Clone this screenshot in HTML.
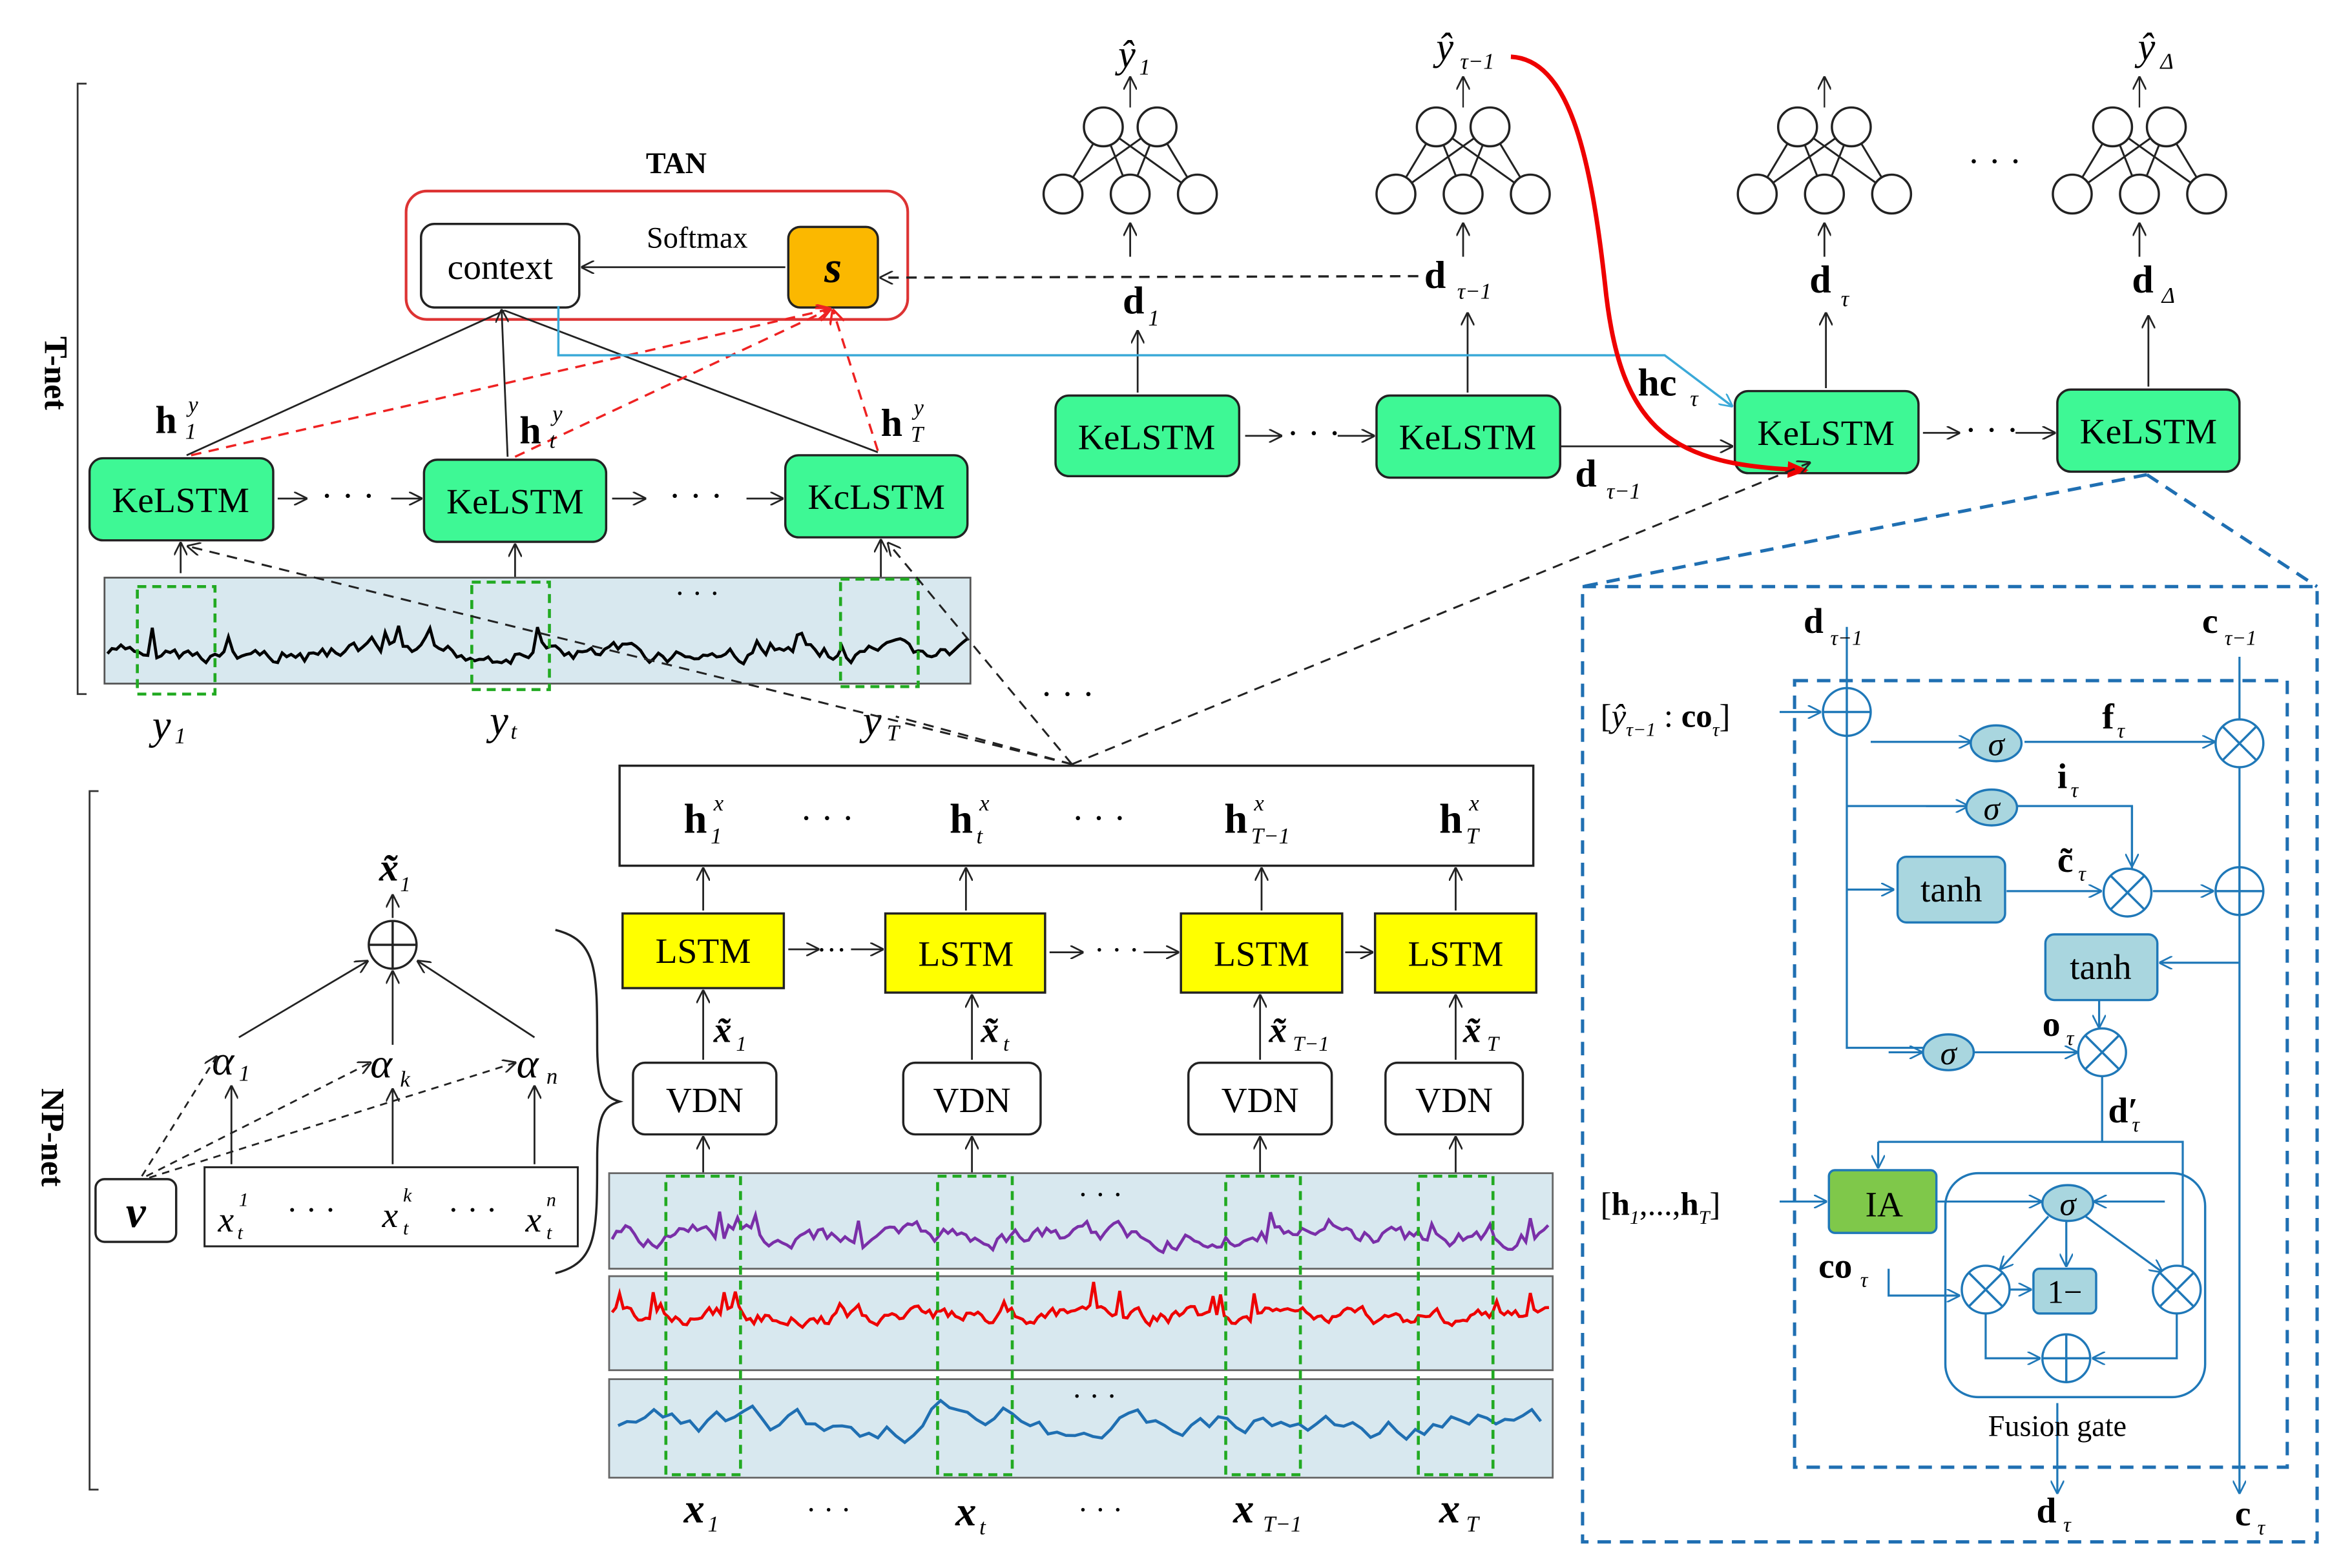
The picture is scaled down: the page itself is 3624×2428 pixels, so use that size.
<!DOCTYPE html>
<html><head><meta charset="utf-8"><style>
html,body{margin:0;padding:0;background:#fff}
svg{display:block}
text{font-family:"Liberation Serif",serif}
</style></head><body>
<svg id="s" width="3624" height="2428" viewBox="0 0 1568 1050.5" xmlns="http://www.w3.org/2000/svg">
<defs>
<marker id="a" viewBox="0 0 10 10" refX="9" refY="5" markerWidth="9" markerHeight="9" orient="auto" markerUnits="userSpaceOnUse"><path d="M0,0L10,5L0,10" fill="none" stroke="#222" stroke-width="1.3"/></marker>
<marker id="ar" viewBox="0 0 10 10" refX="9" refY="5" markerWidth="10" markerHeight="10" orient="auto" markerUnits="userSpaceOnUse"><path d="M0,0L10,5L0,10" fill="none" stroke="#e22" stroke-width="1.5"/></marker>
<marker id="ab" viewBox="0 0 10 10" refX="9" refY="5" markerWidth="9" markerHeight="9" orient="auto" markerUnits="userSpaceOnUse"><path d="M0,0L10,5L0,10" fill="none" stroke="#1f78b8" stroke-width="1.3"/></marker>
<marker id="ac" viewBox="0 0 10 10" refX="9" refY="5" markerWidth="9" markerHeight="9" orient="auto" markerUnits="userSpaceOnUse"><path d="M0,0L10,5L0,10" fill="none" stroke="#3aa9d8" stroke-width="1.3"/></marker>
<marker id="aR" viewBox="0 0 10 10" refX="9" refY="5" markerWidth="14" markerHeight="14" orient="auto" markerUnits="userSpaceOnUse"><path d="M0,1L10,5L0,9z" fill="#e00"/></marker>
</defs>
<g stroke="#333" stroke-width="1.2" fill="none">
<path d="M58,56H52V465H58"/><path d="M66,530H60V998H66"/>
</g>
<text x="30" y="250" font-size="22" font-weight="bold" transform="rotate(90 30 250)" text-anchor="middle">T-net</text>
<text x="28" y="762" font-size="22" font-weight="bold" transform="rotate(90 28 762)" text-anchor="middle">NP-net</text>

<text x="453" y="116" font-size="20" font-weight="bold" text-anchor="middle">TAN</text>
<rect x="272" y="128" width="336" height="86" rx="14" fill="none" stroke="#d33" stroke-width="1.8"/>
<rect x="282" y="150" width="106" height="56" rx="9" fill="#fff" stroke="#222" stroke-width="1.5"/>
<text x="335" y="187" font-size="24" text-anchor="middle">context</text>
<rect x="528" y="152" width="60" height="54" rx="8" fill="#fbb800" stroke="#222" stroke-width="1.5"/>
<text x="558" y="189" font-size="30" font-weight="bold" font-style="italic" text-anchor="middle">s</text>
<text x="467" y="166" font-size="20" text-anchor="middle">Softmax</text>
<line x1="526" y1="179" x2="390" y2="179" stroke="#222" stroke-width="1.2" marker-end="url(#a)"/>
<line x1="950" y1="185" x2="590" y2="186" stroke="#222" stroke-width="1.5" stroke-dasharray="7,5" marker-end="url(#a)"/>

<g stroke="#222" stroke-width="1.5">
<rect x="60" y="307" width="123" height="55" rx="9" fill="#3ef895"/>
<rect x="284" y="308" width="122" height="55" rx="9" fill="#3ef895"/>
<rect x="526" y="305" width="122" height="55" rx="9" fill="#3ef895"/>
<rect x="707" y="265" width="123" height="54" rx="9" fill="#3ef895"/>
<rect x="922" y="265" width="123" height="55" rx="9" fill="#3ef895"/>
<rect x="1162" y="262" width="123" height="55" rx="9" fill="#3ef895"/>
<rect x="1378" y="261" width="122" height="55" rx="9" fill="#3ef895"/>
</g>
<g font-size="24" text-anchor="middle">
<text x="121" y="343">KeLSTM</text><text x="345" y="344">KeLSTM</text><text x="587" y="341">KcLSTM</text>
<text x="768" y="301">KeLSTM</text><text x="983" y="301">KeLSTM</text><text x="1223" y="298">KeLSTM</text><text x="1439" y="297">KeLSTM</text>
</g>
<g stroke="#222" stroke-width="1.2" fill="none">
<line x1="186" y1="334" x2="205" y2="334" marker-end="url(#a)"/>
<line x1="262" y1="334" x2="282" y2="334" marker-end="url(#a)"/>
<line x1="410" y1="334" x2="432" y2="334" marker-end="url(#a)"/>
<line x1="500" y1="334" x2="524" y2="334" marker-end="url(#a)"/>
<line x1="834" y1="292" x2="858" y2="292" marker-end="url(#a)"/>
<line x1="896" y1="292" x2="920" y2="292" marker-end="url(#a)"/>
<line x1="1288" y1="290" x2="1312" y2="290" marker-end="url(#a)"/>
<line x1="1350" y1="290" x2="1376" y2="290" marker-end="url(#a)"/>
<line x1="1045" y1="299" x2="1160" y2="299" marker-end="url(#a)"/>
<line x1="121" y1="384" x2="121" y2="364" marker-end="url(#a)"/>
<line x1="345" y1="388" x2="345" y2="365" marker-end="url(#a)"/>
<line x1="590" y1="410" x2="590" y2="362" marker-end="url(#a)"/>
<line x1="762" y1="263" x2="762" y2="222" marker-end="url(#a)"/>
<line x1="983" y1="263" x2="983" y2="210" marker-end="url(#a)"/>
<line x1="1223" y1="260" x2="1223" y2="210" marker-end="url(#a)"/>
<line x1="1439" y1="259" x2="1439" y2="212" marker-end="url(#a)"/>
<line x1="757" y1="172" x2="757" y2="150" marker-end="url(#a)"/>
<line x1="980" y1="172" x2="980" y2="150" marker-end="url(#a)"/>
<line x1="1222" y1="172" x2="1222" y2="150" marker-end="url(#a)"/>
<line x1="1433" y1="172" x2="1433" y2="150" marker-end="url(#a)"/>
<line x1="125" y1="305" x2="338" y2="208"/><line x1="340" y1="306" x2="336" y2="208" marker-end="url(#a)"/><line x1="588" y1="303" x2="338" y2="208"/>
</g>
<g stroke="#e22" stroke-width="1.5" stroke-dasharray="7,5" fill="none">
<line x1="128" y1="305" x2="556" y2="207" marker-end="url(#ar)"/>
<line x1="345" y1="306" x2="556" y2="207" marker-end="url(#ar)"/>
<line x1="588" y1="302" x2="558" y2="208" marker-end="url(#ar)"/>
</g>
<g font-size="26" font-weight="bold"><text x="104" y="290">h</text><text x="348" y="297">h</text><text x="590" y="292">h</text>
<text x="752" y="210">d</text><text x="954" y="193">d</text><text x="1212" y="196">d</text><text x="1428" y="196">d</text>
<text x="1097" y="265">hc</text><text x="1055" y="326">d</text></g>
<g font-size="15" font-style="italic"><text x="126" y="276">y</text><text x="124" y="294">1</text>
<text x="370" y="282">y</text><text x="368" y="300">t</text><text x="612" y="278">y</text><text x="610" y="296">T</text>
<text x="769" y="218">1</text><text x="976" y="200">τ−1</text><text x="1233" y="205">τ</text><text x="1448" y="203">Δ</text>
<text x="1132" y="272">τ</text><text x="1076" y="334">τ−1</text></g>
<text x="215" y="340" font-size="24">· · ·</text><text x="448" y="340" font-size="24">· · ·</text><text x="862" y="298" font-size="24">· · ·</text><text x="1316" y="296" font-size="24">· · ·</text>
<text x="1318" y="116" font-size="24">· · ·</text>
<path d="M374,205V238H1115L1160,272" fill="none" stroke="#3aa9d8" stroke-width="1.5" marker-end="url(#ac)"/>
<path d="M1012,38C1050,40 1065,100 1075,190C1085,290 1120,312 1210,315" fill="none" stroke="#e00" stroke-width="3" marker-end="url(#aR)"/>
<g font-size="26" font-style="italic"><text x="749" y="45">ŷ</text><text x="962" y="40">ŷ</text><text x="1432" y="40">ŷ</text></g>
<g font-size="15" font-style="italic"><text x="763" y="50">1</text><text x="978" y="46">τ−1</text><text x="1447" y="46">Δ</text></g>
<rect x="70" y="387" width="580" height="71" fill="#d8e8ef" stroke="#555" stroke-width="1.2"/>
<text x="452" y="404" font-size="20">· · ·</text>
<g font-size="28" font-style="italic"><text x="102" y="495">y</text><text x="328" y="492">y</text><text x="578" y="492">y</text></g>
<g font-size="15" font-style="italic"><text x="117" y="498">1</text><text x="342" y="495">t</text><text x="594" y="496">T</text></g>
<g fill="none" stroke="#2a2" stroke-width="2" stroke-dasharray="6,4">
<rect x="92" y="393" width="52" height="72"/><rect x="316" y="390" width="52" height="72"/><rect x="563" y="388" width="52" height="72"/>
</g>
<g stroke="#222" stroke-width="1.3" stroke-dasharray="7,5" fill="none">
<line x1="718" y1="512" x2="126" y2="366" marker-end="url(#a)"/>
<line x1="718" y1="512" x2="595" y2="364" marker-end="url(#a)"/>
<line x1="718" y1="512" x2="1212" y2="310" marker-end="url(#a)"/>
<line x1="718" y1="512" x2="600" y2="480"/>
</g>
<text x="697" y="473" font-size="24">· · ·</text>
<rect x="415" y="513" width="612" height="67" fill="#fff" stroke="#222" stroke-width="1.5"/>
<g font-size="28" font-weight="bold"><text x="458" y="558">h</text><text x="636" y="558">h</text><text x="820" y="558">h</text><text x="964" y="558">h</text></g>
<g font-size="15" font-style="italic"><text x="478" y="543">x</text><text x="476" y="565">1</text><text x="656" y="543">x</text><text x="654" y="565">t</text>
<text x="840" y="543">x</text><text x="838" y="565">T−1</text><text x="984" y="543">x</text><text x="982" y="565">T</text></g>
<text x="536" y="556" font-size="24">· · ·</text><text x="718" y="556" font-size="24">· · ·</text>
<g stroke="#222" stroke-width="1.5" fill="#ff0">
<rect x="417" y="612" width="108" height="50"/><rect x="593" y="612" width="107" height="53"/><rect x="791" y="612" width="108" height="53"/><rect x="921" y="612" width="108" height="53"/>
</g>
<g font-size="24" text-anchor="middle"><text x="471" y="645">LSTM</text><text x="647" y="647">LSTM</text><text x="845" y="647">LSTM</text><text x="975" y="647">LSTM</text></g>
<g stroke="#222" stroke-width="1.5" fill="#fff">
<rect x="424" y="712" width="96" height="48" rx="8"/><rect x="605" y="712" width="92" height="48" rx="8"/><rect x="796" y="712" width="96" height="48" rx="8"/><rect x="928" y="712" width="92" height="48" rx="8"/>
</g>
<g font-size="24" text-anchor="middle"><text x="472" y="745">VDN</text><text x="651" y="745">VDN</text><text x="844" y="745">VDN</text><text x="974" y="745">VDN</text></g>
<g stroke="#222" stroke-width="1.2" fill="none">
<line x1="528" y1="636" x2="548" y2="636" marker-end="url(#a)"/><line x1="570" y1="636" x2="591" y2="636" marker-end="url(#a)"/>
<line x1="703" y1="638" x2="725" y2="638" marker-end="url(#a)"/><line x1="766" y1="638" x2="789" y2="638" marker-end="url(#a)"/>
<line x1="901" y1="638" x2="919" y2="638" marker-end="url(#a)"/>
<line x1="471" y1="610" x2="471" y2="582" marker-end="url(#a)"/><line x1="647" y1="610" x2="647" y2="582" marker-end="url(#a)"/>
<line x1="845" y1="610" x2="845" y2="582" marker-end="url(#a)"/><line x1="975" y1="610" x2="975" y2="582" marker-end="url(#a)"/>
<line x1="471" y1="710" x2="471" y2="664" marker-end="url(#a)"/><line x1="651" y1="710" x2="651" y2="667" marker-end="url(#a)"/>
<line x1="844" y1="710" x2="844" y2="667" marker-end="url(#a)"/><line x1="975" y1="710" x2="975" y2="667" marker-end="url(#a)"/>
<line x1="471" y1="820" x2="471" y2="762" marker-end="url(#a)"/><line x1="651" y1="820" x2="651" y2="762" marker-end="url(#a)"/>
<line x1="844" y1="820" x2="844" y2="762" marker-end="url(#a)"/><line x1="975" y1="820" x2="975" y2="762" marker-end="url(#a)"/>
</g>
<text x="547" y="643" font-size="20">···</text><text x="733" y="643" font-size="20">· · ·</text>
<g font-size="24" font-weight="bold" font-style="italic"><text x="478" y="698">x̃</text><text x="657" y="698">x̃</text><text x="850" y="698">x̃</text><text x="980" y="698">x̃</text></g>
<g font-size="14" font-style="italic"><text x="493" y="704">1</text><text x="672" y="704">t</text><text x="866" y="704">T−1</text><text x="996" y="704">T</text></g>
<g stroke="#666" stroke-width="1.2" fill="#d8e8ef">
<rect x="408" y="786" width="632" height="64"/><rect x="408" y="855" width="632" height="63"/><rect x="408" y="924" width="632" height="66"/>
</g>
<text x="722" y="807" font-size="20">· · ·</text><text x="718" y="942" font-size="20">· · ·</text>
<g fill="none" stroke="#2a2" stroke-width="2" stroke-dasharray="6,4">
<rect x="446" y="788" width="50" height="200"/><rect x="628" y="788" width="50" height="200"/><rect x="821" y="788" width="50" height="200"/><rect x="950" y="788" width="50" height="200"/>
</g>
<g font-size="28" font-weight="bold" font-style="italic"><text x="458" y="1020">x</text><text x="640" y="1022">x</text><text x="826" y="1020">x</text><text x="964" y="1020">x</text></g>
<g font-size="15" font-style="italic"><text x="474" y="1026">1</text><text x="656" y="1028">t</text><text x="846" y="1026">T−1</text><text x="982" y="1026">T</text></g>
<text x="540" y="1018" font-size="20">· · ·</text><text x="722" y="1018" font-size="20">· · ·</text>
<path d="M372,623C400,630 400,650 400,700C400,730 405,735 415,738C405,741 400,746 400,776C400,826 400,846 372,853" fill="none" stroke="#222" stroke-width="1.5"/>
<rect x="64" y="790" width="54" height="42" rx="6" fill="#fff" stroke="#222" stroke-width="1.5"/>
<text x="91" y="822" font-size="30" font-weight="bold" font-style="italic" text-anchor="middle">v</text>
<rect x="137" y="782" width="250" height="53" fill="#fff" stroke="#222" stroke-width="1.3"/>
<g font-size="24" font-style="italic"><text x="146" y="825">x</text><text x="256" y="822">x</text><text x="352" y="825">x</text></g>
<g font-size="13" font-style="italic"><text x="160" y="808">1</text><text x="159" y="830">t</text><text x="270" y="805">k</text><text x="270" y="827">t</text><text x="366" y="808">n</text><text x="366" y="830">t</text></g>
<text x="192" y="818" font-size="22">· · ·</text><text x="300" y="818" font-size="22">· · ·</text>
<g font-size="28" font-style="italic"><text x="142" y="720">α</text><text x="248" y="722">α</text><text x="346" y="722">α</text></g>
<g font-size="15" font-style="italic"><text x="160" y="724">1</text><text x="268" y="728">k</text><text x="366" y="726">n</text></g>
<circle cx="263" cy="633" r="16" fill="#fff" stroke="#222" stroke-width="1.5"/><path d="M247,633H279M263,617V649" stroke="#222" stroke-width="1.5"/>
<text x="254" y="590" font-size="26" font-weight="bold" font-style="italic">x̃</text><text x="268" y="597" font-size="14" font-style="italic">1</text>
<g stroke="#222" stroke-width="1.2" fill="none">
<line x1="263" y1="615" x2="263" y2="600" marker-end="url(#a)"/>
<line x1="160" y1="695" x2="246" y2="644" marker-end="url(#a)"/>
<line x1="263" y1="700" x2="263" y2="651" marker-end="url(#a)"/>
<line x1="358" y1="695" x2="280" y2="644" marker-end="url(#a)"/>
<line x1="155" y1="780" x2="155" y2="728" marker-end="url(#a)"/><line x1="263" y1="780" x2="263" y2="730" marker-end="url(#a)"/><line x1="358" y1="780" x2="358" y2="728" marker-end="url(#a)"/>
</g>
<g stroke="#222" stroke-width="1.2" stroke-dasharray="5,4" fill="none">
<line x1="95" y1="788" x2="145" y2="708" marker-end="url(#a)"/><line x1="98" y1="788" x2="248" y2="712" marker-end="url(#a)"/><line x1="100" y1="789" x2="345" y2="712" marker-end="url(#a)"/>
</g>
<g stroke="#1f6fb2" stroke-width="2.2" stroke-dasharray="9,6" fill="none">
<rect x="1060" y="393" width="492" height="640"/><rect x="1202" y="456" width="330" height="527"/>
<line x1="1438" y1="318" x2="1060" y2="393"/><line x1="1438" y1="318" x2="1552" y2="393"/>
</g>
<g stroke="#1f78b8" stroke-width="1.4" fill="none">
<path d="M1237,420V461M1237,493V702H1290M1237,540H1320M1500,440V482M1500,514V581M1350,540H1428V582M1408,721V765H1258M1408,765H1462V848"/>
<line x1="1192" y1="477" x2="1219" y2="477" marker-end="url(#ab)"/>
<line x1="1253" y1="497" x2="1320" y2="497" marker-end="url(#ab)"/>
<line x1="1290" y1="540" x2="1318" y2="540" marker-end="url(#ab)"/>
<line x1="1237" y1="596" x2="1268" y2="596" marker-end="url(#ab)"/>
<line x1="1356" y1="497" x2="1483" y2="497" marker-end="url(#ab)"/>
<line x1="1428" y1="540" x2="1428" y2="580" marker-end="url(#ab)"/>
<line x1="1344" y1="597" x2="1407" y2="597" marker-end="url(#ab)"/>
<line x1="1442" y1="597" x2="1482" y2="597" marker-end="url(#ab)"/>
<line x1="1500" y1="613" x2="1500" y2="1000" marker-end="url(#ab)"/>
<line x1="1500" y1="645" x2="1447" y2="645" marker-end="url(#ab)"/>
<line x1="1406" y1="670" x2="1406" y2="688" marker-end="url(#ab)"/>
<line x1="1265" y1="705" x2="1287" y2="705" marker-end="url(#ab)"/>
<line x1="1322" y1="705" x2="1391" y2="705" marker-end="url(#ab)"/>
<line x1="1258" y1="765" x2="1258" y2="782" marker-end="url(#ab)"/>
<line x1="1192" y1="805" x2="1223" y2="805" marker-end="url(#ab)"/>
<path d="M1265,850V868H1312" marker-end="url(#ab)"/>
<line x1="1384" y1="818" x2="1384" y2="848" marker-end="url(#ab)"/>
<line x1="1297" y1="805" x2="1367" y2="805" marker-end="url(#ab)"/>
<line x1="1450" y1="805" x2="1403" y2="805" marker-end="url(#ab)"/>
<line x1="1372" y1="815" x2="1340" y2="850" marker-end="url(#ab)"/>
<line x1="1397" y1="815" x2="1448" y2="852" marker-end="url(#ab)"/>
<line x1="1346" y1="864" x2="1360" y2="864" marker-end="url(#ab)"/>
<path d="M1330,880V910H1366" marker-end="url(#ab)"/>
<path d="M1458,880V910H1402" marker-end="url(#ab)"/>
<path d="M1378,940V1000" marker-end="url(#ab)"/>
</g>
<rect x="1303" y="786" width="174" height="150" rx="22" fill="none" stroke="#1f78b8" stroke-width="1.5"/>
<g fill="#a9d6df" stroke="#1f78b8" stroke-width="1.5">
<ellipse cx="1337" cy="498" rx="17" ry="12"/><ellipse cx="1334" cy="541" rx="17" ry="12"/><ellipse cx="1305" cy="705" rx="17" ry="12"/><ellipse cx="1385" cy="806" rx="17" ry="12"/>
<rect x="1271" y="574" width="72" height="44" rx="6"/><rect x="1370" y="626" width="75" height="44" rx="6"/>
<rect x="1362" y="850" width="42" height="30" rx="4"/>
</g>
<rect x="1225" y="784" width="72" height="42" rx="4" fill="#7fc84a" stroke="#1f78b8" stroke-width="1.5"/>
<g fill="#fff" stroke="#1f78b8" stroke-width="1.5">
<circle cx="1237" cy="477" r="16"/><circle cx="1500" cy="498" r="16"/><circle cx="1425" cy="598" r="16"/><circle cx="1500" cy="597" r="16"/><circle cx="1408" cy="705" r="16"/>
<circle cx="1330" cy="864" r="16"/><circle cx="1458" cy="864" r="16"/><circle cx="1384" cy="910" r="16"/>
</g>
<g stroke="#1f78b8" stroke-width="1.5">
<path d="M1221,477H1253M1237,461V493M1484,597H1516M1500,581V613M1368,910H1400M1384,894V926"/>
<path d="M1489,487L1511,509M1511,487L1489,509M1414,587L1436,609M1436,587L1414,609M1397,694L1419,716M1419,694L1397,716M1319,853L1341,875M1341,853L1319,875M1447,853L1469,875M1469,853L1447,875"/>
</g>
<g font-size="24" text-anchor="middle"><text x="1307" y="604">tanh</text><text x="1407" y="656">tanh</text><text x="1262" y="815">IA</text><text x="1383" y="873" font-size="22">1−</text></g>
<g font-size="22" font-style="italic" text-anchor="middle"><text x="1337" y="506">σ</text><text x="1334" y="549">σ</text><text x="1305" y="713">σ</text><text x="1385" y="814">σ</text></g>
<text x="1378" y="962" font-size="20" text-anchor="middle">Fusion gate</text>
<g font-size="24" font-weight="bold"><text x="1208" y="424">d</text><text x="1475" y="424">c</text><text x="1408" y="488">f</text><text x="1378" y="528">i</text><text x="1378" y="584">c̃</text><text x="1368" y="694">o</text><text x="1412" y="752">d′</text><text x="1218" y="856">co</text><text x="1364" y="1020">d</text><text x="1497" y="1022">c</text></g>
<g font-size="14" font-style="italic"><text x="1226" y="432">τ−1</text><text x="1490" y="432">τ−1</text><text x="1418" y="494">τ</text><text x="1387" y="534">τ</text><text x="1392" y="590">τ</text><text x="1384" y="700">τ</text><text x="1428" y="758">τ</text><text x="1246" y="862">τ</text><text x="1382" y="1026">τ</text><text x="1512" y="1028">τ</text></g>
<text x="1072" y="487" font-size="22">[<tspan font-style="italic">ŷ</tspan><tspan font-size="13" font-style="italic" dy="6">τ−1</tspan><tspan dy="-6"> : </tspan><tspan font-weight="bold">co</tspan><tspan font-size="13" font-style="italic" dy="6">τ</tspan><tspan dy="-6">]</tspan></text>
<text x="1072" y="814" font-size="22">[<tspan font-weight="bold">h</tspan><tspan font-size="13" font-style="italic" dy="6">1</tspan><tspan dy="-6">,...,</tspan><tspan font-weight="bold">h</tspan><tspan font-size="13" font-style="italic" dy="6">T</tspan><tspan dy="-6">]</tspan></text>
</svg>
<script>
(function(){
var ns="http://www.w3.org/2000/svg",sd=7,svg=document.getElementById("s");
function r(){sd=(sd*9301+49297)%233280;return sd/233280;}
function mk(d,col,w){var p=document.createElementNS(ns,"path");p.setAttribute("d",d);p.setAttribute("fill","none");p.setAttribute("stroke",col);p.setAttribute("stroke-width",w);return p;}
function poly(x0,x1,yb,amp,col,w,step,sp){var d="",v=0;for(var x=x0;x<=x1;x+=step){v=v*0.7+(r()-0.5)*amp;var y=yb+v;if(sp&&r()<sp)y-=r()*amp*1.8;d+=(d?"L":"M")+x.toFixed(1)+","+y.toFixed(1);}return mk(d,col,w);}
var anchor=document.querySelector('text[x="452"][y="404"]');
svg.insertBefore(poly(72,648,438,9,"#000",2,3,0.07),anchor);
var a2=document.querySelector('text[x="722"][y="807"]');
svg.insertBefore(poly(410,1038,828,10,"#7a2fa8",2,3,0.05),a2);
svg.insertBefore(poly(410,1038,882,8,"#e00",2,2.5,0.07),a2);
var d="",v=0;for(var x=414;x<=1032;x+=6){v=v*0.7+(r()-0.5)*14;var y=955+v-(x>620&&x<700?10:0);d+=(d?"L":"M")+x+","+y.toFixed(1);}
svg.insertBefore(mk(d,"#1f6fb2",2),a2);
[757,980,1222,1433].forEach(function(cx){
var top=[[cx-18,85],[cx+18,85]],bot=[[cx-45,130],[cx,130],[cx+45,130]];
top.forEach(function(t){bot.forEach(function(b){var l=document.createElementNS(ns,"line");l.setAttribute("x1",t[0]);l.setAttribute("y1",t[1]);l.setAttribute("x2",b[0]);l.setAttribute("y2",b[1]);l.setAttribute("stroke","#222");l.setAttribute("stroke-width","1.3");svg.appendChild(l);});});
var l=document.createElementNS(ns,"line");l.setAttribute("x1",cx);l.setAttribute("y1",72);l.setAttribute("x2",cx);l.setAttribute("y2",52);l.setAttribute("stroke","#222");l.setAttribute("marker-end","url(#a)");svg.appendChild(l);
top.concat(bot).forEach(function(t){var ci=document.createElementNS(ns,"circle");ci.setAttribute("cx",t[0]);ci.setAttribute("cy",t[1]);ci.setAttribute("r",13);ci.setAttribute("fill","#fff");ci.setAttribute("stroke","#222");ci.setAttribute("stroke-width","1.5");svg.appendChild(ci);});
});
})();
</script>
</body></html>
